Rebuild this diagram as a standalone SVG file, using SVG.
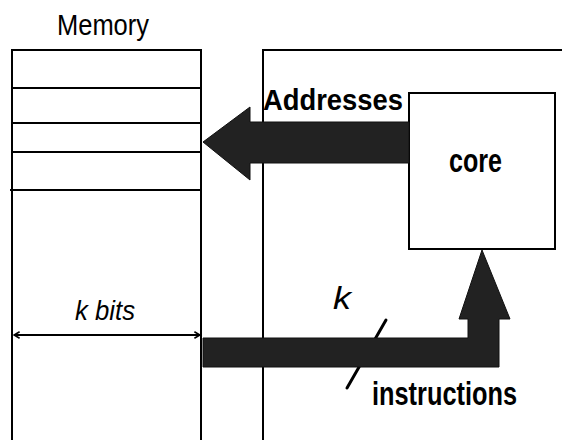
<svg xmlns="http://www.w3.org/2000/svg" width="562" height="440" viewBox="0 0 562 440">
  <defs>
    <style>
      .box { fill: #fff; stroke: #000; stroke-width: 2; }
      .line { stroke: #000; stroke-width: 2; fill: none; }
      .bus { fill: #222; stroke: #111; stroke-width: 1; }
      .lbl { font-family: "Liberation Sans", Arial, sans-serif; fill: #000; }
      .bold { font-weight: bold; }
      .ital { font-style: italic; }
    </style>
    <marker id="dimEnd" viewBox="0 0 10 10" refX="9" refY="5" markerWidth="8" markerHeight="8" orient="auto-start-reverse" markerUnits="userSpaceOnUse">
      <path d="M2,1 L9,5 L2,9" fill="none" stroke="#000" stroke-width="2"/>
    </marker>
  </defs>
  <rect width="562" height="440" fill="#fff"/>

  <g id="memory">
    <text class="lbl" x="57" y="35" font-size="30" textLength="92" lengthAdjust="spacingAndGlyphs">Memory</text>
    <rect class="box" x="12" y="50" width="189" height="400"/>
    <line class="line" x1="12" y1="88" x2="201" y2="88"/>
    <line class="line" x1="12" y1="123" x2="201" y2="123"/>
    <line class="line" x1="12" y1="152" x2="201" y2="152"/>
    <line class="line" x1="10" y1="190" x2="201" y2="190"/>
  </g>

  <g id="processor">
    <rect class="box" x="263" y="50" width="320" height="400"/>
  </g>

  <g id="core">
    <rect class="box" x="409" y="93" width="146" height="156"/>
    <text class="lbl bold" x="449" y="172" font-size="33" textLength="53" lengthAdjust="spacingAndGlyphs">core</text>
  </g>

  <g id="connectors">
    <g id="addresses">
      <polygon class="bus" points="409,122 250,122 250,107 203,142 250,180 250,163 409,163"/>
      <text class="lbl bold" x="263" y="110" font-size="30" textLength="140" lengthAdjust="spacingAndGlyphs">Addresses</text>
    </g>
    <g id="instructions">
      <line x1="386" y1="320" x2="347" y2="388" stroke="#000" stroke-width="3" stroke-linecap="round"/>
      <polygon class="bus" points="203,338 468,338 468,319 459,319 482,250 510,319 499,319 499,367 203,367"/>
      <text class="lbl ital" x="333" y="309" font-size="32" textLength="18" lengthAdjust="spacingAndGlyphs">k</text>
      <text class="lbl bold" x="372" y="405" font-size="33" textLength="145" lengthAdjust="spacingAndGlyphs">instructions</text>
    </g>
    <g id="kbits">
      <line class="line" x1="14" y1="335" x2="200" y2="335" marker-start="url(#dimEnd)" marker-end="url(#dimEnd)"/>
      <text class="lbl ital" x="75" y="320" font-size="27" textLength="60" lengthAdjust="spacingAndGlyphs">k bits</text>
    </g>
  </g>
</svg>
